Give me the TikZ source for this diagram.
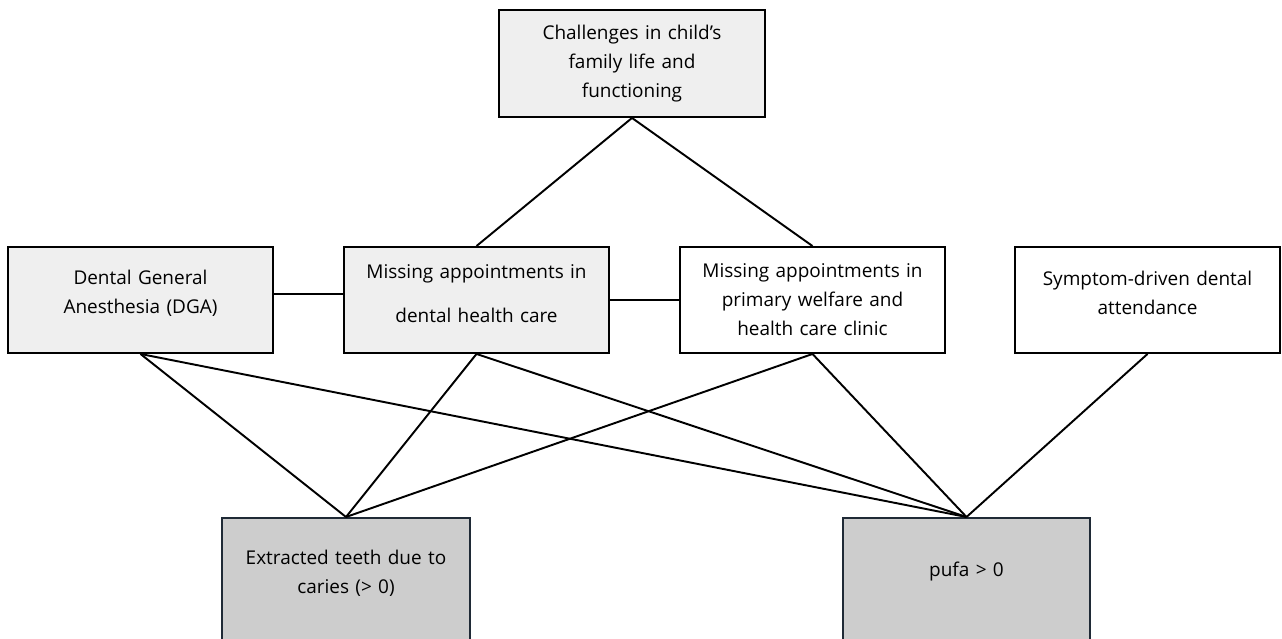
\documentclass[tikz,border=0pt]{standalone}
\usepackage{fontspec}
\setmainfont{Open Sans}
\usepackage{xcolor}
\usepackage{tikz}
\definecolor{lightbox}{HTML}{EFEFEF}
\definecolor{darkbox}{HTML}{CDCDCD}
\definecolor{edgeline}{HTML}{1F2A36}
\begin{document}
\begin{tikzpicture}[line width=1.1pt,every node/.style={shape=rectangle,align=center,font=\fontsize{10.8pt}{16.5pt}\selectfont},
        midbox/.style={draw,inner sep=0.1cm,text width=5.1cm,minimum width=5.3cm,minimum height=2.12cm},
        lowbox/.style={draw=edgeline,fill=darkbox,anchor=north,inner xsep=0.1cm,text width=4.7cm,minimum width=4.95cm,text depth=2cm}]
    \useasboundingbox (0,0) rectangle (25.64,12.76);
    \clip (0,0) rectangle (25.64,12.76);
        \node[midbox,fill=lightbox,minimum width=5.32cm,minimum height=2.14cm] (family) at (12.64,11.49) {Challenges in child's\\family life and\\functioning};
        \node[midbox,fill=lightbox,text depth=0.9cm] (dga) at (2.81,6.76) {Dental General\\Anesthesia (DGA)};
        \node[midbox,fill=lightbox,text depth=1.12cm] (dental) at (9.53,6.76) {Missing appointments in\\[8.5pt]dental health care};
        \node[midbox,fill=white] (primary) at (16.25,6.76) {Missing appointments in\\primary welfare and\\health care clinic};
        \node[midbox,fill=white,text depth=0.88cm] (symptom) at (22.95,6.76) {Symptom-driven dental\\attendance};
        \node[lowbox,inner ysep=0.65cm] (extracted) at (6.92,2.42) {Extracted teeth due to\\caries (> 0)};
        \node[lowbox,inner ysep=0.89cm] (pufa) at (19.33,2.42) {pufa > 0};
        \draw (family.south) -- (dental.north);
        \draw (family.south) -- (primary.north);
        \draw ([yshift=1.2mm]dga.east) -- ([yshift=1.2mm]dental.west);
        \draw (dental.east) -- (primary.west);
        \draw (dga.south) -- (extracted.north);
        \draw (dga.south) -- (pufa.north);
        \draw (dental.south) -- (extracted.north);
        \draw (dental.south) -- (pufa.north);
        \draw (primary.south) -- (extracted.north);
        \draw (primary.south) -- (pufa.north);
        \draw (symptom.south) -- (pufa.north);
    \end{tikzpicture}
\end{document}
